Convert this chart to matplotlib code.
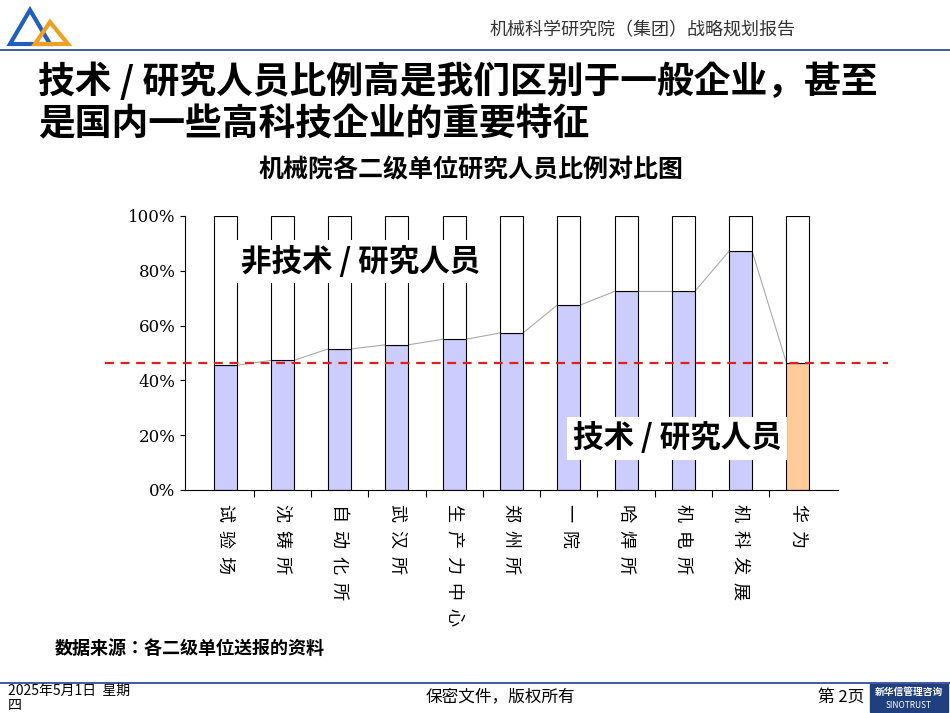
import numpy as np
import matplotlib
matplotlib.use("Agg")
import matplotlib.pyplot as plt
from matplotlib import font_manager

# pick whichever CJK family matplotlib actually knows
names = {f.name for f in font_manager.fontManager.ttflist}
cjk = next((n for n in ["Noto Sans CJK SC", "Noto Sans CJK JP", "Noto Sans CJK TC",
                        "Noto Sans CJK KR"] if n in names),
           next((n for n in sorted(names) if "CJK" in n), "DejaVu Sans"))
plt.rcParams["font.family"] = "sans-serif"
plt.rcParams["font.sans-serif"] = [cjk, "DejaVu Sans"]

units = ["试验场", "沈铸所", "自动化所", "武汉所", "生产力中心", "郑州所",
         "一院", "哈焊所", "机电所", "机科发展", "华为"]
tech_pct = [45.5, 47.3, 51.5, 53, 55, 57.3, 67.5, 72.5, 72.5, 87.2, 46.4]

W, H = 950, 713
fig = plt.figure(figsize=(9.5, 7.13), dpi=100)

def fx(px):
    return px / W

def fy(py):
    return 1 - py / H

# header
fig.text(fx(643), fy(30), "机械科学研究院（集团）战略规划报告", ha="center", va="center",
         fontsize=13, color="#333333")
fig.add_artist(plt.Line2D([fx(0), fx(950)], [fy(50), fy(50)], color="#1f3f8f", lw=1.2))
fig.add_artist(plt.Polygon([[fx(10), fy(44)], [fx(30), fy(10)], [fx(50), fy(44)]],
                           closed=True, fill=False, ec="#1f5fbf", lw=3))
fig.add_artist(plt.Polygon([[fx(35), fy(44)], [fx(50), fy(22)], [fx(68), fy(44)]],
                           closed=True, fill=False, ec="#f0a020", lw=3))

fig.text(fx(38), fy(82), "技术 / 研究人员比例高是我们区别于一般企业，甚至",
         fontsize=26.5, fontweight="bold", va="center")
fig.text(fx(38), fy(125), "是国内一些高科技企业的重要特征",
         fontsize=26.5, fontweight="bold", va="center")
fig.text(fx(471), fy(170), "机械院各二级单位研究人员比例对比图", ha="center", va="center",
         fontsize=18, fontweight="bold")

ax = fig.add_axes([fx(185), fy(490), fx(838 - 185), (490 - 216) / H])
x = np.arange(len(units))
colors = ["#ccccff"] * (len(units) - 1) + ["#ffcc99"]
bw = 0.4
ax.bar(x, tech_pct, bw, color=colors, edgecolor="black", lw=0.8, zorder=2)
ax.bar(x, 100 - np.array(tech_pct), bw, bottom=tech_pct, color="white",
       edgecolor="black", lw=0.8, zorder=2)
for i in range(len(units) - 1):
    ax.plot([x[i] + bw / 2, x[i + 1] - bw / 2], [tech_pct[i], tech_pct[i + 1]],
            color="#aaaaaa", lw=0.8, zorder=1)
ax.set_xlim(-0.7, len(units) - 0.3)
ax.set_ylim(0, 100)
ax.set_yticks(range(0, 101, 20))
ax.set_yticklabels([f"{v}%" for v in range(0, 101, 20)], fontsize=12,
                   fontfamily="DejaVu Serif")
ax.set_xticks(np.arange(len(units) - 1) + 0.5)
ax.set_xticklabels([])
ax.tick_params(axis="x", length=5)
for s in ["top", "right"]:
    ax.spines[s].set_visible(False)
for i, u in enumerate(units):
    ax.text(x[i], -5, "  ".join(u), ha="center", va="top", fontsize=13,
            rotation=270, clip_on=False)

fig.add_artist(plt.Line2D([fx(105), fx(888)], [fy(363), fy(363)], color="#e02020",
                          lw=1.6, ls=(0, (4, 3))))

fig.text(fx(361), fy(262), "非技术 / 研究人员", ha="center", va="center", fontsize=22,
         fontweight="bold", bbox=dict(fc="white", ec="none", pad=4))
fig.text(fx(677), fy(438), "技术 / 研究人员", ha="center", va="center", fontsize=22,
         fontweight="bold", bbox=dict(fc="white", ec="none", pad=4))

fig.text(fx(55), fy(648), "数据来源：各二级单位送报的资料", fontsize=13,
         fontweight="bold", va="center")

fig.add_artist(plt.Line2D([fx(0), fx(950)], [fy(683), fy(683)], color="#1f3f8f", lw=1.2))
fig.text(fx(8), fy(698), "2025年5月1日  星期\n四", fontsize=10, va="center", linespacing=1.0)
fig.text(fx(500), fy(697), "保密文件，版权所有", fontsize=12, ha="center", va="center")
fig.text(fx(818), fy(697), "第 2页", fontsize=12, ha="left", va="center")
fig.add_artist(plt.Rectangle((fx(870), fy(712)), fx(78), 28 / H, color="#1f3f7f"))
fig.text(fx(909), fy(692), "新华信管理咨询", fontsize=7, color="white", ha="center",
         va="center", fontweight="bold")
fig.text(fx(909), fy(705), "SINOTRUST", fontsize=6, color="white", ha="center",
         va="center")

fig.savefig("out.png", dpi=100)
